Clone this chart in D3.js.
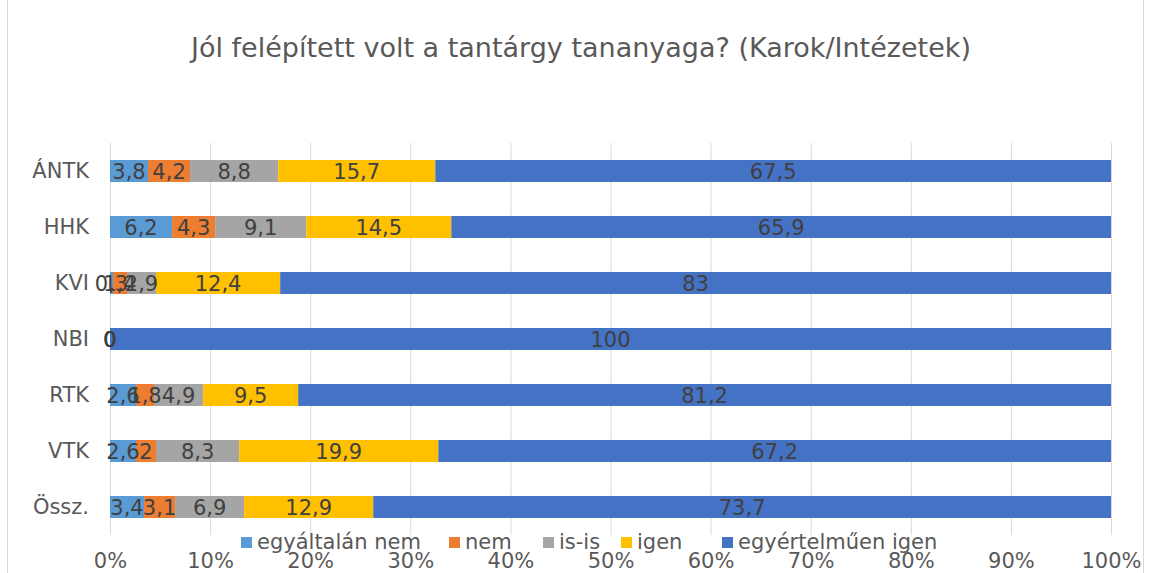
<!DOCTYPE html>
<html>
<head>
<meta charset="utf-8">
<script src="https://cdn.jsdelivr.net/npm/d3@7"></script>
<style>
  body { margin: 0; background: #fff; }
  svg { font-family: Verdana, "DejaVu Sans", sans-serif; }
</style>
</head>
<body>
<script>
const categories = ["ÁNTK", "HHK", "KVI", "NBI", "RTK", "VTK", "Össz."];
const seriesNames = ["egyáltalán nem", "nem", "is-is", "igen", "egyértelműen igen"];
const colors = ["#5B9BD5", "#ED7D31", "#A5A5A5", "#FFC000", "#4472C4"];
const egyaltalanNem = [3.8, 6.2, 0.3, 0, 2.6, 2.6, 3.4];
const nem = [4.2, 4.3, 1.4, 0, 1.8, 2, 3.1];
const isis = [8.8, 9.1, 2.9, 0, 4.9, 8.3, 6.9];
const igen = [15.7, 14.5, 12.4, 0, 9.5, 19.9, 12.9];
const egyertelmuen = [67.5, 65.9, 83, 100, 81.2, 67.2, 73.7];
const tickValues = [0, 10, 20, 30, 40, 50, 60, 70, 80, 90, 100];

const w = 1151, h = 573;
const values = [egyaltalanNem, nem, isis, igen, egyertelmuen];

const svg = d3.select("body").append("svg").attr("width", w).attr("height", h);

// chart border
svg.append("rect")
  .attr("x", 7.5).attr("y", -10).attr("width", 1136).attr("height", h + 20)
  .attr("rx", 6).attr("fill", "none").attr("stroke", "#d9d9d9");

svg.append("text")
  .attr("x", 581).attr("y", 57)
  .attr("text-anchor", "middle")
  .attr("font-size", 27).attr("fill", "#595959")
  .text("Jól felépített volt a tantárgy tananyaga? (Karok/Intézetek)");

const x = d3.scaleLinear().domain([0, 100]).range([110, 1111]);
const y = d3.scaleBand().domain(categories).range([143, 535])
  .paddingInner(0.607).paddingOuter(0.3035);

// gridlines
svg.append("g").selectAll("line").data(tickValues).enter().append("line")
  .attr("x1", d => x(d) + 0.5).attr("x2", d => x(d) + 0.5)
  .attr("y1", 143).attr("y2", 535)
  .attr("stroke", "#d9d9d9").attr("stroke-width", 1);

const xAxis = d3.axisBottom(x).tickValues(tickValues).tickSize(0).tickFormat(d => d + "%");
const gx = svg.append("g").attr("transform", "translate(0,550)").call(xAxis);
gx.select(".domain").remove();
gx.selectAll("text").attr("font-size", 21).attr("fill", "#595959")
  .attr("font-family", "Verdana, 'DejaVu Sans', sans-serif");

const yAxis = d3.axisLeft(y).tickSize(0).tickPadding(21);
const gy = svg.append("g").attr("transform", "translate(110,0)").call(yAxis);
gy.select(".domain").remove();
gy.selectAll("text").attr("font-size", 21).attr("fill", "#595959")
  .attr("font-family", "Verdana, 'DejaVu Sans', sans-serif");

// stacked data
const rows = categories.map((c, i) => {
  const r = { cat: c };
  seriesNames.forEach((s, j) => { r[s] = values[j][i]; });
  return r;
});
const stacked = d3.stack().keys(seriesNames)(rows);

const groups = svg.append("g").selectAll("g").data(stacked).enter().append("g")
  .attr("fill", (d, i) => colors[i]);

groups.selectAll("rect").data(d => d).enter().append("rect")
  .attr("x", d => x(d[0]))
  .attr("y", d => y(d.data.cat))
  .attr("width", d => x(d[1]) - x(d[0]))
  .attr("height", y.bandwidth());

const labels = svg.append("g");
stacked.forEach(s => {
  labels.selectAll(null).data(s).enter().append("text")
    .attr("x", d => (x(d[0]) + x(d[1])) / 2)
    .attr("y", d => y(d.data.cat) + y.bandwidth() / 2)
    .attr("dy", "0.36em")
    .attr("text-anchor", "middle")
    .attr("font-size", 21).attr("fill", "#404040")
    .text(d => String(+(d[1] - d[0]).toFixed(1)).replace(".", ","));
});

// legend
const legendX = [241, 449, 543, 621, 722];
const lg = svg.append("g").selectAll("g").data(seriesNames).enter().append("g")
  .attr("transform", (d, i) => "translate(" + legendX[i] + ",537)");
lg.append("rect").attr("width", 11).attr("height", 11).attr("y", 0)
  .attr("fill", (d, i) => colors[i]);
lg.append("text").attr("x", 16).attr("y", 12)
  .attr("font-size", 21).attr("fill", "#595959").text(d => d);
</script>
</body>
</html>
